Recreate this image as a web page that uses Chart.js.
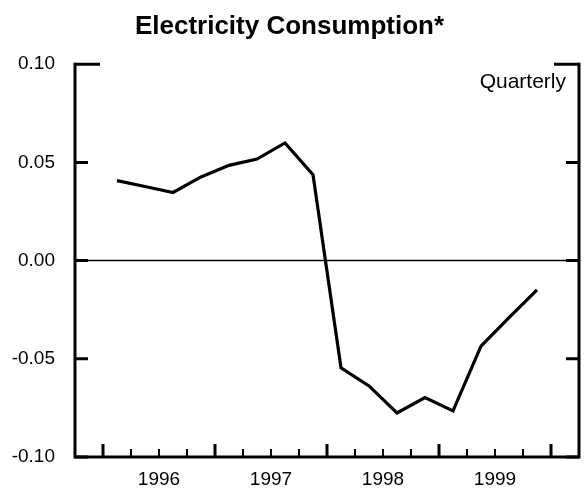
<!DOCTYPE html>
<html>
<head>
<meta charset="utf-8">
<script src="https://cdn.jsdelivr.net/npm/chart.js@4"></script>
<style>
  html, body { margin: 0; padding: 0; background: #fff; }
  #wrap { width: 585px; height: 492px; }
</style>
</head>
<body>
<div id="wrap"><canvas id="chart" width="585" height="492"></canvas></div>
<script>
// quarterly series, 1996 Q1 .. 1999 Q4
const years = [1996, 1996, 1996, 1996, 1997, 1997, 1997, 1997,
               1998, 1998, 1998, 1998, 1999, 1999, 1999, 1999];
const quarters = [1, 2, 3, 4, 1, 2, 3, 4, 1, 2, 3, 4, 1, 2, 3, 4];
const consumption = [0.0407, 0.0377, 0.0347, 0.0426, 0.0485, 0.0517, 0.0599, 0.0437,
                     -0.0546, -0.0638, -0.0776, -0.0697, -0.0765, -0.0435, -0.029, -0.0149];
const yearLabels = [1996, 1997, 1998, 1999];
const yTicks = [-0.10, -0.05, 0.00, 0.05, 0.10];

const FONT = 'Liberation Sans, Arial, sans-serif';

// plot quarters at mid-quarter
const points = consumption.map((v, i) => ({ x: years[i] + (quarters[i] - 0.5) / 4, y: v }));

// frame, zero line and inward tick marks
const framePlugin = {
  id: 'frame',
  afterDatasetsDraw(chart) {
    const { ctx, chartArea: a, scales: { x, y } } = chart;
    ctx.save();
    ctx.strokeStyle = '#000';

    // zero line
    ctx.lineWidth = 1.5;
    const y0 = y.getPixelForValue(0);
    ctx.beginPath();
    ctx.moveTo(a.left, y0);
    ctx.lineTo(a.right, y0);
    ctx.stroke();

    // axes
    ctx.lineWidth = 3;
    ctx.lineCap = 'square';
    ctx.beginPath();
    ctx.moveTo(a.left, a.top);
    ctx.lineTo(a.left, a.bottom);
    ctx.lineTo(a.right, a.bottom);
    ctx.lineTo(a.right, a.top);
    ctx.stroke();
    ctx.lineCap = 'butt';

    // y ticks on both sides
    yTicks.forEach(v => {
      const py = y.getPixelForValue(v);
      const len = v === 0.10 ? 25 : 13;
      ctx.beginPath();
      ctx.moveTo(a.left, py);
      ctx.lineTo(a.left + len, py);
      ctx.moveTo(a.right, py);
      ctx.lineTo(a.right - len, py);
      ctx.stroke();
    });

    // x ticks: years (major) and quarters (minor)
    for (let yr = 1996; yr <= 2000; yr++) {
      ctx.lineWidth = 3;
      let px = x.getPixelForValue(yr);
      ctx.beginPath();
      ctx.moveTo(px, a.bottom);
      ctx.lineTo(px, a.bottom - 13);
      ctx.stroke();
      if (yr === 2000) break;
      ctx.lineWidth = 2;
      for (let q = 1; q < 4; q++) {
        px = x.getPixelForValue(yr + q / 4);
        ctx.beginPath();
        ctx.moveTo(px, a.bottom);
        ctx.lineTo(px, a.bottom - 8);
        ctx.stroke();
      }
    }

    // frequency note
    ctx.fillStyle = '#000';
    ctx.font = '21px ' + FONT;
    ctx.textAlign = 'right';
    ctx.textBaseline = 'middle';
    ctx.fillText('Quarterly', a.right - 13, 82);
    ctx.restore();
  }
};

new Chart(document.getElementById('chart'), {
  type: 'line',
  data: {
    datasets: [{
      label: 'Electricity Consumption',
      data: points,
      borderColor: '#000',
      borderWidth: 3.2,
      pointRadius: 0,
      tension: 0,
      fill: false
    }]
  },
  options: {
    responsive: false,
    animation: false,
    layout: { padding: { left: 0, right: 6, top: 0, bottom: 0 } },
    plugins: {
      legend: { display: false },
      tooltip: { enabled: false },
      title: {
        display: true,
        text: 'Electricity Consumption*',
        color: '#000',
        font: { family: FONT, size: 26, weight: 'bold', lineHeight: 1.2 },
        padding: { top: 11, bottom: 22 }
      }
    },
    scales: {
      x: {
        type: 'linear',
        min: 1995.75,
        max: 2000.25,
        border: { display: false },
        grid: { display: false, drawTicks: false },
        afterBuildTicks: s => { s.ticks = yearLabels.map(v => ({ value: v + 0.5 })); },
        afterFit: s => { s.height = 35; },
        ticks: {
          color: '#000',
          padding: 11,
          maxRotation: 0,
          autoSkip: false,
          font: { family: FONT, size: 19 },
          callback: v => String(Math.floor(v))
        }
      },
      y: {
        min: -0.10,
        max: 0.10,
        border: { display: false },
        grid: { display: false, drawTicks: false },
        afterBuildTicks: s => { s.ticks = yTicks.map(v => ({ value: v })); },
        afterFit: s => { s.width = 75; },
        ticks: {
          color: '#000',
          padding: 20,
          font: { family: FONT, size: 19 },
          callback: v => v.toFixed(2)
        }
      }
    }
  },
  plugins: [framePlugin]
});
</script>
</body>
</html>
